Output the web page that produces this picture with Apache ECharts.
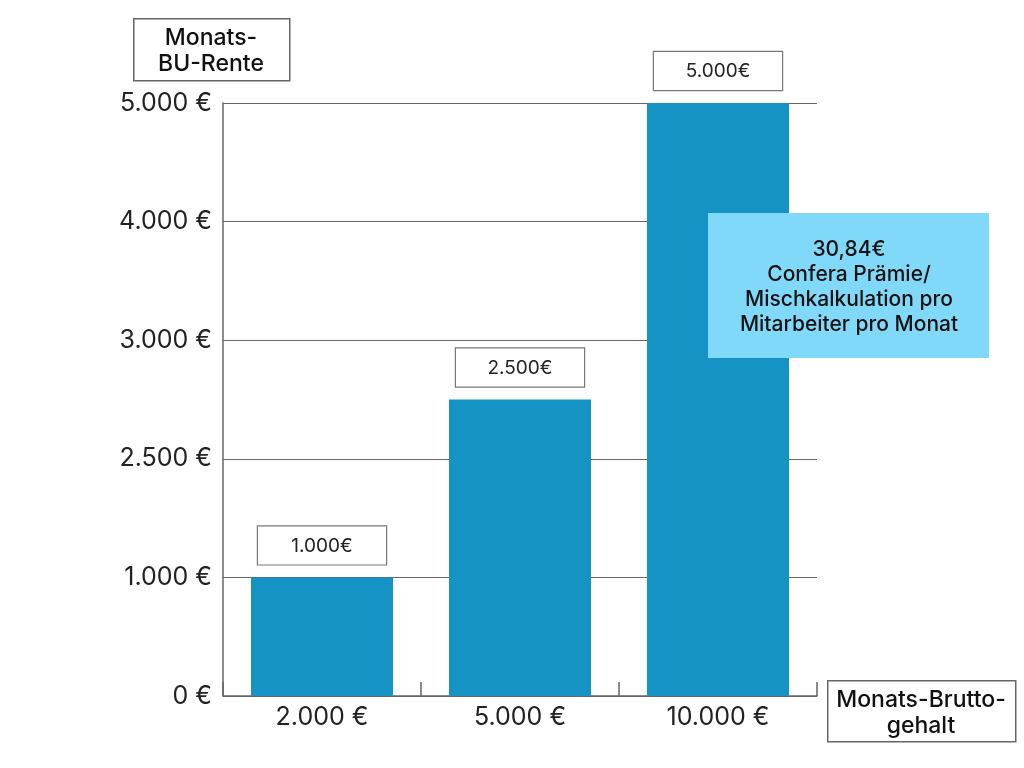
<!DOCTYPE html>
<html>
<head>
<meta charset="utf-8">
<script src="https://cdn.jsdelivr.net/npm/echarts@6/dist/echarts.min.js"></script>
<style>html,body{margin:0;padding:0;background:#fff;}#c{width:1024px;height:768px;}</style>
</head>
<body>
<div id="c"></div>
<script>
const categories = ['2.000 €', '5.000 €', '10.000 €'];
const values = [1000, 2500, 5000];
const valueLabels = ['1.000€', '2.500€', '5.000€'];
const yTickValues = [0, 1000, 2000, 3000, 4000, 5000];
const yTickLabels = ['0 €', '1.000 €', '2.500 €', '3.000 €', '4.000 €', '5.000 €'];
const yAxisTitle = 'Monats-\nBU-Rente';
const xAxisTitle = 'Monats-Brutto-\ngehalt';
const noteText = '30,84€\nConfera Prämie/\nMischkalkulation pro\nMitarbeiter pro Monat';

const FONT = 'Inter, "Noto Sans", sans-serif';
const chart = echarts.init(document.getElementById('c'), null, {renderer: 'canvas'});
chart.setOption({
  backgroundColor: '#ffffff',
  animation: false,
  grid: {left: 223, right: 207, top: 103, bottom: 72, containLabel: false},
  xAxis: {
    type: 'category',
    data: categories,
    axisLine: {show: true, lineStyle: {color: '#666', width: 1.5}},
    axisTick: {show: true, inside: true, length: 14, lineStyle: {color: '#666', width: 1.5}},
    axisLabel: {fontSize: 25, color: '#222', margin: 9, fontFamily: FONT}
  },
  yAxis: {
    type: 'value',
    min: 0, max: 5000, interval: 1000,
    axisLine: {show: true, lineStyle: {color: '#666', width: 1.5}},
    axisTick: {show: false},
    splitLine: {show: true, lineStyle: {color: '#666', width: 1.2}},
    axisLabel: {
      fontSize: 25, color: '#222', margin: 11, fontFamily: FONT,
      formatter: function (v) {
        const i = yTickValues.indexOf(v);
        return i >= 0 ? yTickLabels[i] : '';
      }
    }
  },
  series: [{
    type: 'bar',
    data: values,
    barWidth: 142,
    itemStyle: {color: '#1693c5'},
    label: {
      show: true,
      position: 'top',
      distance: 13,
      formatter: function (p) { return valueLabels[p.dataIndex]; },
      fontSize: 19,
      color: '#222',
      fontFamily: FONT,
      backgroundColor: '#fff',
      borderColor: '#777',
      borderWidth: 1.2,
      width: 128,
      align: 'center',
      padding: [10, 0, 9, 0]
    },
    z: 2
  }],
  graphic: [
    {
      type: 'rect', left: 133, top: 18, z: 10,
      shape: {width: 156, height: 62},
      style: {fill: '#fff', stroke: '#666', lineWidth: 1.5}
    },
    {
      type: 'text', x: 211, y: 51, z: 11,
      style: {
        text: yAxisTitle, fontSize: 23, lineHeight: 26, fontFamily: FONT, fontWeight: 500, fill: '#111',
        align: 'center', verticalAlign: 'middle'
      }
    },
    {
      type: 'rect', left: 827, top: 680, z: 10,
      shape: {width: 188, height: 61},
      style: {fill: '#fff', stroke: '#666', lineWidth: 1.5}
    },
    {
      type: 'text', x: 921, y: 713, z: 11,
      style: {
        text: xAxisTitle, fontSize: 23, lineHeight: 26, fontFamily: FONT, fontWeight: 500, fill: '#111',
        align: 'center', verticalAlign: 'middle'
      }
    },
    {
      type: 'rect', left: 708, top: 213, z: 20,
      shape: {width: 281, height: 145},
      style: {fill: '#80d9f8'}
    },
    {
      type: 'text', x: 849, y: 287, z: 21,
      style: {
        text: noteText, fontSize: 21, lineHeight: 25, fontFamily: FONT, fontWeight: 500,
        fill: '#111', align: 'center', verticalAlign: 'middle'
      }
    }
  ]
});
</script>
</body>
</html>
